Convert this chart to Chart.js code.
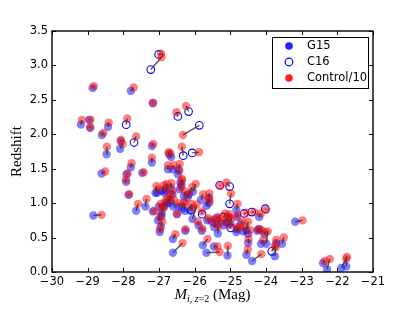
<!DOCTYPE html>
<html>
<head>
<meta charset="utf-8">
<script src="https://cdn.jsdelivr.net/npm/chart.js@4/dist/chart.umd.min.js"></script>
<style>
  html, body { margin: 0; padding: 0; background: #fff; }
</style>
</head>
<body>
<canvas id="chart" width="415" height="312"></canvas>
<script>
// G15 quasars [Mi(z=2), redshift] and their matched control points
const g15 = [
  [-28.86,2.67],[-27.79,2.63],[-27.17,2.45],[-29.19,2.14],[-28.96,2.21],[-28.93,2.09],[-28.43,2.11],[-28.60,1.99],[-28.09,1.79],[-28.07,1.90],
  [-28.47,1.71],[-27.20,1.83],[-26.72,1.71],[-26.66,1.67],[-27.20,1.59],[-28.61,1.43],[-27.79,1.52],[-27.91,1.42],[-27.92,1.31],[-27.47,1.44],
  [-27.85,1.12],[-28.84,0.82],[-27.64,0.89],[-27.38,0.95],[-26.75,1.49],[-26.61,1.49],[-26.45,1.49],[-26.47,1.42],[-26.37,1.27],[-26.40,1.30],
  [-27.10,1.15],[-26.93,1.18],[-26.67,1.22],[-26.62,1.13],[-26.05,1.17],[-26.16,1.13],[-25.82,1.05],[-25.67,0.96],[-25.60,1.08],[-26.79,1.00],
  [-26.93,0.85],[-26.72,1.00],[-27.17,0.88],[-26.93,0.81],[-26.95,0.66],[-26.98,0.58],[-26.61,0.48],[-26.61,0.28],[-26.50,0.84],[-26.26,0.60],
  [-26.28,0.89],[-26.13,0.89],[-26.06,0.77],[-25.89,0.68],[-25.77,0.39],[-25.67,0.28],[-25.46,0.37],[-25.08,0.24],[-24.55,0.25],[-24.39,0.16],
  [-23.75,0.23],[-23.55,0.41],[-23.71,0.42],[-24.14,0.41],[-23.99,0.41],[-24.19,0.62],[-24.50,0.42],[-23.18,0.73],[-22.40,0.13],[-22.29,0.04],
  [-21.89,0.06],[-21.75,0.08],[-24.19,0.80],[-24.83,0.90],[-24.83,0.58],[-24.55,0.61],[-25.35,0.56],[-25.52,0.73],[-25.39,0.78],[-24.82,0.80],
  [-24.71,0.70],[-24.64,0.59],[-24.82,0.62],[-24.50,0.55],[-25.80,0.60],[-27.05,1.15],[-26.85,1.15],[-26.80,1.18],[-26.70,1.05],[-26.85,0.95],
  [-27.00,0.95],[-26.60,0.95],[-26.45,0.95],[-26.35,0.92],[-26.30,1.10],[-26.20,1.08],[-26.42,1.20],[-27.03,0.75],[-25.35,0.70],[-25.20,0.68],
  [-25.10,0.72],[-25.00,0.70],[-25.65,0.75],[-24.05,0.55],[-24.25,0.60],[-25.05,0.80],[-25.60,1.00],[-25.45,0.65]
];
const g15Ctrl = [
  [-28.83,2.70],[-27.71,2.68],[-27.17,2.46],[-29.16,2.21],[-28.92,2.21],[-28.93,2.11],[-28.41,2.17],[-28.56,2.02],[-28.02,1.86],[-28.07,1.92],
  [-28.46,1.82],[-27.16,1.86],[-26.73,1.74],[-26.68,1.72],[-27.20,1.66],[-28.51,1.46],[-27.77,1.58],[-27.88,1.43],[-27.93,1.34],[-27.43,1.45],
  [-27.84,1.13],[-28.61,0.83],[-27.59,0.99],[-27.35,1.06],[-26.75,1.55],[-26.59,1.55],[-26.42,1.57],[-26.43,1.47],[-26.35,1.35],[-26.36,1.33],
  [-27.07,1.25],[-26.86,1.26],[-26.65,1.29],[-26.62,1.18],[-25.97,1.28],[-26.07,1.23],[-25.76,1.13],[-25.61,1.06],[-25.59,1.14],[-26.78,1.06],
  [-26.88,0.94],[-26.72,1.06],[-27.14,0.89],[-26.91,0.91],[-26.91,0.73],[-26.97,0.62],[-26.54,0.55],[-26.34,0.42],[-26.49,0.85],[-26.26,0.62],
  [-26.27,0.99],[-26.09,0.99],[-25.94,0.98],[-25.91,0.73],[-25.64,0.48],[-25.30,0.29],[-25.36,0.37],[-25.07,0.38],[-24.51,0.33],[-24.13,0.26],
  [-23.73,0.36],[-23.50,0.50],[-23.71,0.47],[-24.08,0.46],[-23.95,0.59],[-24.14,0.61],[-24.49,0.48],[-22.98,0.75],[-22.35,0.16],[-22.21,0.19],
  [-21.73,0.22],[-21.75,0.19],[-24.15,0.85],[-24.80,0.99],[-24.77,0.64],[-24.50,0.73],[-25.33,0.66],[-25.49,0.76],[-25.35,0.80],[-24.79,0.83],
  [-24.66,0.73],[-24.59,0.65],[-24.80,0.65],[-24.45,0.61],[-25.78,0.63],[-27.02,1.20],[-26.80,1.22],[-26.78,1.28],[-26.68,1.12],[-26.83,1.02],
  [-26.96,0.99],[-26.58,1.05],[-26.43,1.00],[-26.30,1.01],[-26.27,1.17],[-26.17,1.13],[-26.38,1.23],[-26.98,0.80],[-25.28,0.77],[-25.15,0.75],
  [-25.05,0.78],[-24.97,0.78],[-25.62,0.78],[-24.02,0.58],[-24.22,0.62],[-25.03,0.84],[-25.58,1.03],[-25.42,0.70]
];

// C16 quasars and their matched control points
const c16 = [
  [-27.23,2.94],[-27.01,3.16],[-26.47,2.26],[-26.17,2.33],[-25.87,2.13],[-27.92,2.14],[-27.70,1.88],[-26.32,1.69],[-26.07,1.73],[-25.79,0.84],
  [-23.84,0.30],[-24.02,0.92],[-24.40,0.87],[-24.61,0.85],[-25.02,0.99],[-25.02,1.24],[-25.30,1.26],[-24.99,0.64],[-25.19,0.80],[-26.09,0.90]
];
const c16Ctrl = [
  [-26.93,3.12],[-26.94,3.17],[-26.51,2.32],[-26.24,2.41],[-26.33,1.99],[-27.89,2.23],[-27.64,1.97],[-26.36,1.82],[-25.88,1.74],[-25.80,0.88],
  [-23.75,0.38],[-24.00,0.90],[-24.33,0.87],[-24.55,0.86],[-24.98,1.14],[-25.11,1.30],[-25.28,1.25],[-25.02,0.68],[-25.15,0.85],[-26.05,0.93]
];

const xTicks = [-30, -29, -28, -27, -26, -25, -24, -23, -22, -21];
const yTicks = [0.0, 0.5, 1.0, 1.5, 2.0, 2.5, 3.0, 3.5];
const legendLabels = ['G15', 'C16', 'Control/10'];

const toXY = arr => arr.map(p => ({ x: p[0], y: p[1] }));

// connector segments, broken with null points
const links = [];
function addLinks(a, b) {
  for (let i = 0; i < Math.min(a.length, b.length); i++) {
    links.push({ x: a[i][0], y: a[i][1] });
    links.push({ x: b[i][0], y: b[i][1] });
    links.push({ x: a[i][0], y: null });
  }
}
addLinks(g15, g15Ctrl);
addLinks(c16, c16Ctrl);

const TICK_FONT = { family: 'DejaVu Sans', size: 11.5 };

const framePlugin = {
  id: 'frame',
  afterDraw(chart) {
    const ctx = chart.ctx;
    const a = chart.chartArea;
    const xs = chart.scales.x, ys = chart.scales.y;
    ctx.save();
    ctx.strokeStyle = '#000';
    ctx.lineWidth = 1;
    // inner ticks on all four sides
    ctx.beginPath();
    xTicks.forEach(v => {
      const px = Math.round(xs.getPixelForValue(v)) + 0.5;
      ctx.moveTo(px, a.bottom); ctx.lineTo(px, a.bottom - 4);
      ctx.moveTo(px, a.top); ctx.lineTo(px, a.top + 4);
    });
    yTicks.forEach(v => {
      const py = Math.round(ys.getPixelForValue(v)) + 0.5;
      ctx.moveTo(a.left, py); ctx.lineTo(a.left + 4, py);
      ctx.moveTo(a.right, py); ctx.lineTo(a.right - 4, py);
    });
    ctx.stroke();
    ctx.lineWidth = 1.4;
    ctx.strokeRect(a.left, a.top, a.right - a.left, a.bottom - a.top);

    // legend
    const lx = 272, ly = 37, lw = 96, lh = 51;
    ctx.fillStyle = '#fff';
    ctx.fillRect(lx, ly, lw, lh);
    ctx.lineWidth = 1;
    ctx.strokeStyle = '#000';
    ctx.strokeRect(lx + 0.5, ly + 0.5, lw, lh);
    const rows = [46, 62, 78];
    ctx.font = '11.5px "DejaVu Sans"';
    ctx.textBaseline = 'middle';
    ctx.textAlign = 'left';
    legendLabels.forEach((lab, i) => {
      ctx.beginPath();
      ctx.arc(289, rows[i], 3.8, 0, Math.PI * 2);
      if (i === 1) {
        ctx.strokeStyle = '#0000ff';
        ctx.lineWidth = 1.2;
        ctx.stroke();
      } else {
        ctx.fillStyle = i === 0 ? '#2020ff' : '#ff2020';
        ctx.fill();
      }
      ctx.fillStyle = '#000';
      ctx.fillText(lab, 307, rows[i] + 0.5);
    });

    // axis titles
    ctx.fillStyle = '#000';
    ctx.save();
    ctx.translate(17, (a.top + a.bottom) / 2);
    ctx.rotate(-Math.PI / 2);
    ctx.textAlign = 'center';
    ctx.font = '15px "Liberation Serif"';
    ctx.fillText('Redshift', 0, 0);
    ctx.restore();

    const base = 299;
    const parts = [
      { t: 'M', f: 'italic 15px "Liberation Serif"', dy: 0 },
      { t: 'i, ', f: 'italic 10px "Liberation Serif"', dy: 3 },
      { t: 'z', f: 'italic 10px "Liberation Serif"', dy: 3 },
      { t: '=2', f: '10px "Liberation Serif"', dy: 3 },
      { t: ' (Mag)', f: '15px "Liberation Serif"', dy: 0 }
    ];
    let total = 0;
    parts.forEach(p => { ctx.font = p.f; p.w = ctx.measureText(p.t).width; total += p.w; });
    let cx = (a.left + a.right) / 2 - total / 2;
    ctx.textBaseline = 'alphabetic';
    parts.forEach(p => {
      ctx.font = p.f;
      ctx.fillText(p.t, cx, base + p.dy);
      cx += p.w;
    });
    ctx.restore();
  }
};

const ctx = document.getElementById('chart').getContext('2d');
const chart = new Chart(ctx, {
  type: 'scatter',
  data: {
    datasets: [
      {
        label: 'links',
        type: 'line',
        data: links,
        showLine: true,
        spanGaps: false,
        borderColor: 'rgba(60,60,60,0.85)',
        borderWidth: 1.5,
        pointRadius: 0,
        fill: false,
        order: 0
      },
      {
        label: legendLabels[0],
        data: toXY(g15),
        backgroundColor: 'rgba(0,0,255,0.5)',
        borderWidth: 0,
        pointRadius: 4.2,
        order: 3
      },
      {
        label: legendLabels[1],
        data: toXY(c16),
        backgroundColor: 'rgba(0,0,0,0)',
        borderColor: '#0000ff',
        borderWidth: 1.1,
        pointRadius: 3.8,
        order: 2
      },
      {
        label: legendLabels[2],
        data: toXY(g15Ctrl.concat(c16Ctrl)),
        backgroundColor: 'rgba(255,0,0,0.5)',
        borderWidth: 0,
        pointRadius: 4.2,
        order: 1
      }
    ]
  },
  options: {
    responsive: false,
    animation: false,
    devicePixelRatio: 1,
    layout: { padding: { left: 0, top: 31, right: 42, bottom: 0 } },
    plugins: {
      legend: { display: false },
      tooltip: { enabled: false }
    },
    events: [],
    scales: {
      x: {
        type: 'linear',
        min: -30,
        max: -21,
        afterFit: s => { s.height = 40; },
        afterBuildTicks: s => { s.ticks = xTicks.map(v => ({ value: v })); },
        ticks: {
          font: TICK_FONT,
          color: '#000',
          padding: 3,
          maxRotation: 0,
          callback: v => String(v).replace('-', '\u2212')
        },
        grid: { display: false, drawTicks: false },
        border: { display: false }
      },
      y: {
        type: 'linear',
        min: 0,
        max: 3.5,
        afterFit: s => { s.width = 52; },
        afterBuildTicks: s => { s.ticks = yTicks.map(v => ({ value: v })); },
        ticks: {
          font: TICK_FONT,
          color: '#000',
          padding: 4,
          callback: v => v.toFixed(1)
        },
        grid: { display: false, drawTicks: false },
        border: { display: false }
      }
    }
  },
  plugins: [framePlugin]
});
</script>
</body>
</html>
